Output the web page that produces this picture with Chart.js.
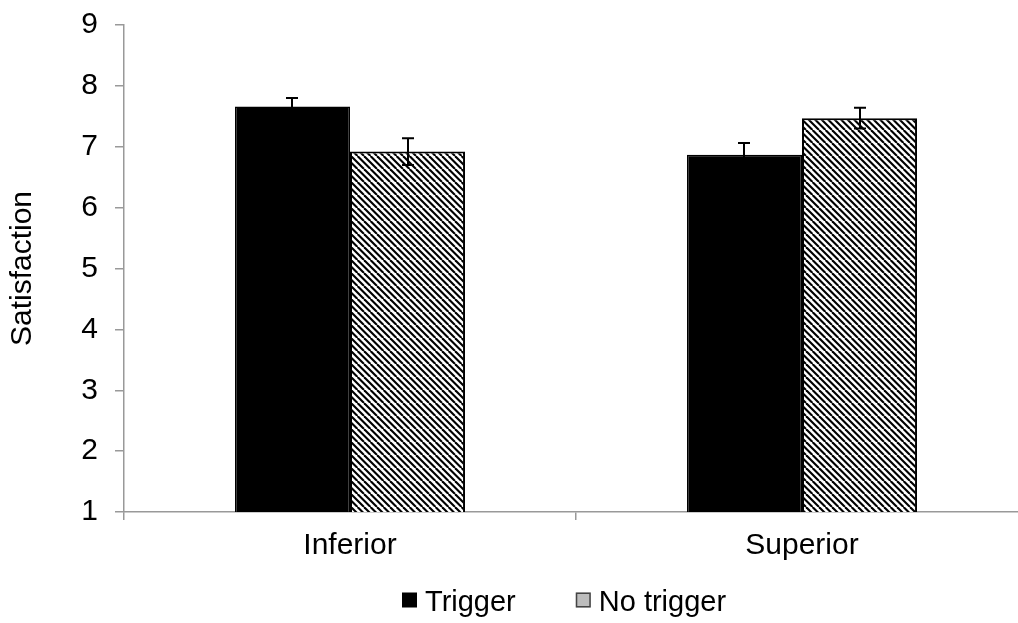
<!DOCTYPE html>
<html>
<head>
<meta charset="utf-8">
<script src="https://cdn.jsdelivr.net/npm/chart.js@4"></script>
<style>
  html, body { margin: 0; padding: 0; background: #fff; overflow: hidden; }
  #wrap { width: 1040px; height: 623px; }
  canvas { display: block; }
</style>
</head>
<body>
<div id="wrap"><canvas id="c" width="1040" height="623"></canvas></div>
<script>
// ---- data ----
const categories = ['Inferior', 'Superior'];
const seriesNames = ['Trigger', 'No trigger'];
const triggerValues = [7.66, 6.87];
const triggerErrors = [0.14, 0.19];
const noTriggerValues = [6.92, 7.47];
const noTriggerErrors = [0.22, 0.17];
const yTicks = [1, 2, 3, 4, 5, 6, 7, 8, 9];
const yTitle = 'Satisfaction';

const FONT = "'Liberation Sans', Arial, sans-serif";
const FS = 30;
const LEGEND_FS = 29;

function makeHatch() {
  const s = 13;
  const c = document.createElement('canvas');
  c.width = s; c.height = s;
  const g = c.getContext('2d');
  g.fillStyle = '#fff';
  g.fillRect(0, 0, s, s);
  g.strokeStyle = '#000';
  g.lineWidth = 2.1;
  for (let k = -2 * s; k <= 2 * s; k += s / 2) {
    g.beginPath();
    g.moveTo(k, 0);
    g.lineTo(k + s, s);
    g.stroke();
  }
  return document.getElementById('c').getContext('2d').createPattern(c, 'repeat');
}
const hatch = makeHatch();

const errorSets = [triggerErrors, noTriggerErrors];

const errorBarPlugin = {
  id: 'errorBars',
  afterDatasetsDraw(chart) {
    const ctx = chart.ctx;
    const y = chart.scales.y;
    ctx.save();
    ctx.strokeStyle = '#000';
    ctx.lineWidth = 2;
    chart.data.datasets.forEach((ds, i) => {
      const meta = chart.getDatasetMeta(i);
      meta.data.forEach((bar, j) => {
        const v = ds.data[j];
        const e = errorSets[i][j];
        const x = Math.round(bar.x);
        const yt = y.getPixelForValue(v + e);
        const yb = y.getPixelForValue(v - e);
        const cap = 6;
        ctx.beginPath();
        ctx.moveTo(x, yt); ctx.lineTo(x, yb);
        ctx.moveTo(x - cap, yt); ctx.lineTo(x + cap, yt);
        ctx.moveTo(x - cap, yb); ctx.lineTo(x + cap, yb);
        ctx.stroke();
      });
    });
    ctx.restore();
  }
};

const legendPlugin = {
  id: 'customLegend',
  afterDraw(chart) {
    const ctx = chart.ctx;
    ctx.save();
    ctx.font = LEGEND_FS + 'px ' + FONT;
    ctx.textBaseline = 'middle';
    ctx.textAlign = 'left';
    const box = 15, gapText = 8, gapItem = 60;
    let x = 402;
    const cy = 600;
    chart.data.datasets.forEach((ds, i) => {
      if (i === 0) {
        ctx.fillStyle = '#000';
        ctx.fillRect(x, cy - box / 2, box, box);
      } else {
        ctx.fillStyle = '#bdbdbd';
        ctx.fillRect(x, cy - box / 2, box, box);
        ctx.strokeStyle = '#444';
        ctx.lineWidth = 1.5;
        ctx.strokeRect(x + 0.75, cy - box / 2 + 0.75, box - 1.5, box - 1.5);
      }
      ctx.fillStyle = '#000';
      ctx.fillText(ds.label, x + box + gapText, cy + 3);
      x += box + gapText + ctx.measureText(ds.label).width + gapItem;
    });
    ctx.restore();
  }
};

new Chart(document.getElementById('c'), {
  type: 'bar',
  data: {
    labels: categories,
    datasets: [
      {
        label: seriesNames[0],
        data: triggerValues,
        backgroundColor: '#000',
        borderColor: '#000',
        borderWidth: 1.5,
        borderSkipped: false,
        categoryPercentage: 0.509,
        barPercentage: 1.0
      },
      {
        label: seriesNames[1],
        data: noTriggerValues,
        backgroundColor: hatch,
        borderColor: '#000',
        borderWidth: 2,
        borderSkipped: false,
        categoryPercentage: 0.509,
        barPercentage: 1.0
      }
    ]
  },
  options: {
    responsive: false,
    animation: false,
    devicePixelRatio: 1,
    layout: { padding: { top: 25, right: 12, left: 0, bottom: 0 } },
    plugins: {
      legend: { display: false },
      tooltip: { enabled: false }
    },
    scales: {
      x: {
        grid: {
          display: true,
          drawOnChartArea: false,
          drawTicks: true,
          tickLength: 8,
          color: '#999',
          lineWidth: 1.5,
          offset: true
        },
        border: { display: true, color: '#999', width: 1.5 },
        ticks: {
          color: '#000',
          font: { family: FONT, size: FS },
          padding: 8
        },
        afterFit(scale) { scale.height = 111; scale.paddingLeft = 0; scale.paddingRight = 0; }
      },
      y: {
        min: 1,
        max: 9,
        afterBuildTicks(scale) { scale.ticks = yTicks.map(v => ({ value: v })); },
        grid: {
          display: true,
          drawOnChartArea: false,
          drawTicks: true,
          tickLength: 9,
          color: '#999',
          lineWidth: 1.5
        },
        border: { display: true, color: '#999', width: 1.5 },
        ticks: {
          color: '#000',
          font: { family: FONT, size: FS },
          padding: 17
        },
        title: {
          display: true,
          text: yTitle,
          color: '#000',
          font: { family: FONT, size: FS },
          padding: { top: 5, bottom: 0 }
        },
        afterFit(scale) { scale.width = 124; scale.paddingTop = 0; scale.paddingBottom = 0; }
      }
    }
  },
  plugins: [errorBarPlugin, legendPlugin]
});
</script>
</body>
</html>
